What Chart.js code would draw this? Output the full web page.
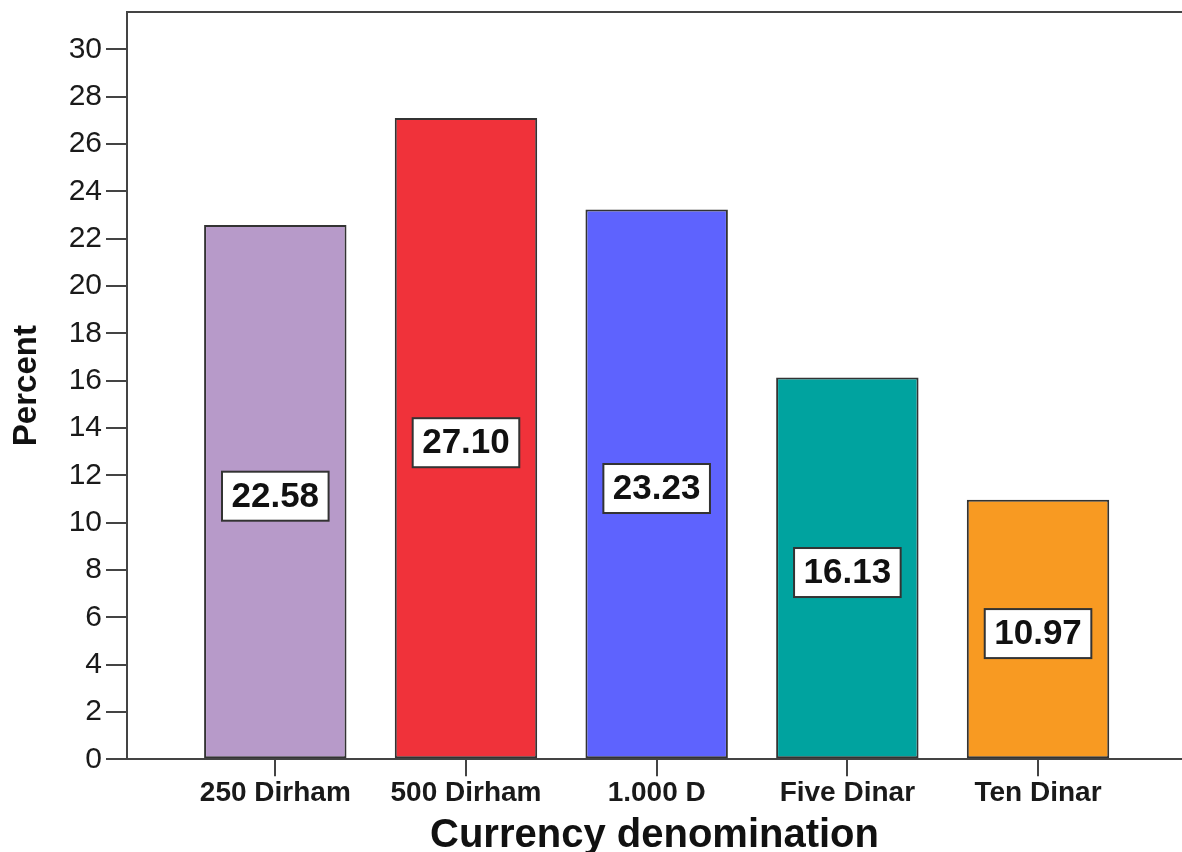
<!DOCTYPE html>
<html>
<head>
<meta charset="utf-8">
<title>Currency denomination</title>
<script src="https://cdn.jsdelivr.net/npm/chart.js@4.4.1/dist/chart.umd.min.js"></script>
<style>
  html, body { margin: 0; padding: 0; background: #ffffff; overflow: hidden; }
  #wrap { width: 1182px; height: 852px; }
</style>
</head>
<body>
<div id="wrap"><canvas id="chart" width="1182" height="852"></canvas></div>
<script>
// Share of respondents by currency denomination (%)
const categories = ['250 Dirham', '500 Dirham', '1.000 D', 'Five Dinar', 'Ten Dinar'];
const percents = [22.58, 27.10, 23.23, 16.13, 10.97];
const barColors = ['#B79AC9', '#F0323A', '#5E63FE', '#00A39F', '#F89A22'];
const yTickValues = [0, 2, 4, 6, 8, 10, 12, 14, 16, 18, 20, 22, 24, 26, 28, 30];

const AXIS = '#444444';
const FONT = "'Liberation Sans', Arial, sans-serif";

// Top edge of the plot frame
const frameTop = {
  id: 'frameTop',
  afterDraw(chart) {
    const { ctx, chartArea: a } = chart;
    ctx.save();
    ctx.strokeStyle = AXIS;
    ctx.lineWidth = 2;
    ctx.beginPath();
    ctx.moveTo(a.left - 1, a.top);
    ctx.lineTo(a.right, a.top);
    ctx.stroke();
    ctx.restore();
  }
};

// Boxed value labels in the middle of each bar
const valueBoxes = {
  id: 'valueBoxes',
  afterDatasetsDraw(chart) {
    const { ctx } = chart;
    const meta = chart.getDatasetMeta(0);
    ctx.save();
    ctx.font = "bold 35px " + FONT;
    ctx.textAlign = 'center';
    ctx.textBaseline = 'middle';
    meta.data.forEach((bar, i) => {
      const text = percents[i].toFixed(2);
      const cx = bar.x;
      const cy = (bar.y + bar.base) / 2 + 4.6;
      const w = ctx.measureText(text).width + 19;
      const h = 49;
      ctx.fillStyle = '#ffffff';
      ctx.fillRect(cx - w / 2, cy - h / 2, w, h);
      ctx.strokeStyle = '#333333';
      ctx.lineWidth = 2;
      ctx.strokeRect(cx - w / 2, cy - h / 2, w, h);
      ctx.fillStyle = '#111111';
      ctx.fillText(text, cx, cy + 1);
    });
    ctx.restore();
  }
};

new Chart(document.getElementById('chart'), {
  type: 'bar',
  data: {
    datasets: [{
      data: percents.map((v, i) => ({ x: i, y: v })),
      backgroundColor: barColors,
      borderColor: '#333333',
      borderWidth: 2,
      borderSkipped: false,
      categoryPercentage: 1,
      barPercentage: 0.747
    }]
  },
  options: {
    responsive: false,
    animation: false,
    devicePixelRatio: 1,
    layout: { padding: { top: 12, right: 0, left: 0, bottom: 0 } },
    plugins: { legend: { display: false }, tooltip: { enabled: false } },
    scales: {
      x: {
        type: 'linear',
        offset: false,
        min: -0.7777,
        max: 4.755,
        afterFit(scale) { scale.height = 92.7; scale.paddingLeft = 0; scale.paddingRight = 0; },
        afterBuildTicks(scale) { scale.ticks = categories.map((c, i) => ({ value: i })); },
        grid: { display: true, offset: false, drawOnChartArea: false, drawTicks: true, tickLength: 17, color: AXIS, lineWidth: 2 },
        border: { display: true, color: AXIS, width: 2 },
        ticks: {
          padding: 0,
          color: '#1a1a1a',
          font: { family: FONT, size: 28, weight: 'bold' },
          maxRotation: 0,
          autoSkip: false,
          callback: (v) => categories[v]
        },
        title: {
          display: true,
          text: 'Currency denomination',
          color: '#111111',
          font: { family: FONT, size: 40, weight: 'bold', lineHeight: 0.8 },
          padding: { top: 0, bottom: 0 }
        }
      },
      y: {
        min: 0,
        max: 31.576,
        afterFit(scale) { scale.width = 127; scale.paddingTop = 0; scale.paddingBottom = 0; },
        afterBuildTicks(scale) { scale.ticks = yTickValues.map(v => ({ value: v })); },
        grid: { display: true, drawOnChartArea: false, drawTicks: true, tickLength: 21, color: AXIS, lineWidth: 2 },
        border: { display: true, color: AXIS, width: 2 },
        ticks: {
          padding: 4,
          color: '#1a1a1a',
          font: { family: FONT, size: 30 },
          callback: (v) => String(v)
        },
        title: {
          display: true,
          text: 'Percent',
          color: '#111111',
          font: { family: FONT, size: 33, weight: 'bold', lineHeight: 1.2 },
          padding: { top: 7, bottom: 0 }
        }
      }
    }
  },
  plugins: [frameTop, valueBoxes]
});
</script>
</body>
</html>
